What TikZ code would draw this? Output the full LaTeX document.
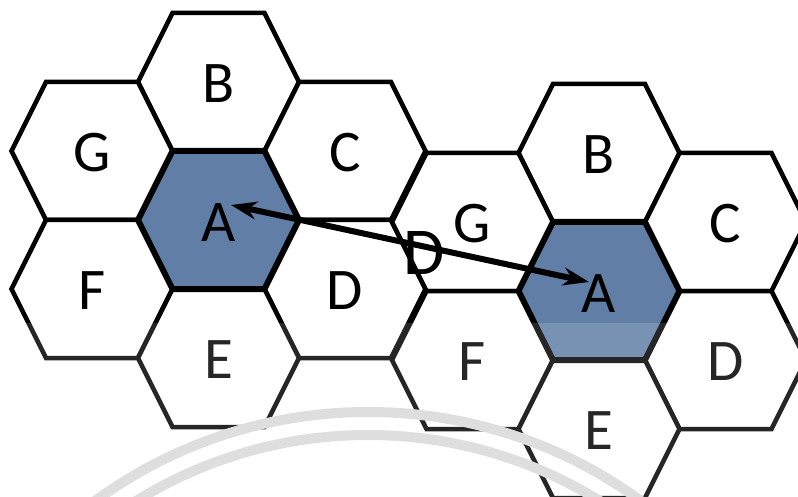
\documentclass[tikz,border=0pt]{standalone}
\usepackage{fontspec}
\setmainfont{Carlito}
\usepackage{tikz}
\usetikzlibrary{arrows.meta}
\definecolor{cellblue}{RGB}{97,127,166}

\begin{document}
\begin{tikzpicture}[
x=1pt, y=-1pt,
cell/.style={draw=black, line width=4.5pt, fill=white},
reuse/.style={draw=black, line width=6pt, fill=cellblue},
reusedist/.style={{Stealth[length=26pt,width=18pt]}-{Stealth[length=26pt,width=18pt]}, line width=6pt},
every node/.style={font=\fontsize{59}{60}\selectfont, inner sep=0pt}
]
\useasboundingbox (0,0) rectangle (798,497);
\clip (0,0) rectangle (798,497);

% first cluster, then the second one
\foreach \cx/\cy/\name/\txt in {
    218.5/82/lB/B, 92/151/lG/G, 345/151/lC/C, 92/289/lF/F, 345/289/lD/D, 218.5/358/lE/E,
    599/153/rB/B, 472.5/222/rG/G, 725.5/222/rC/C, 472.5/360/rF/F, 725.5/360/rD/D, 599/429/rE/E}
{
    \draw[cell, shift={(\cx,\cy)}] (-80.5,0) -- (-46,-69) -- (46,-69) -- (80.5,0) -- (46,69) -- (-46,69) -- cycle;
    \node (\name) at (\cx,\cy+2) {\txt};
}

% co-channel cells
\foreach \cx/\cy/\name in {218.5/220/lA, 599/291/rA}
{
    \draw[reuse, shift={(\cx,\cy)}] (-80.5,0) -- (-46,-69) -- (46,-69) -- (80.5,0) -- (46,69) -- (-46,69) -- cycle;
    \node (\name) at (\cx,\cy+2.5) {A};
}

\coordinate (tipL) at (231,205);
\coordinate (tipR) at (589,282);
\draw[reusedist] (tipL) -- (tipR);
\node[font=\fontsize{67}{68}\selectfont] (dist) at (424,253.5) {D};

% watermark
\fill[white, opacity=0.15] (0,323) rectangle (798,497);
\draw[black!13, line width=10pt] (368,875) circle[radius=463pt];
\draw[black!13, line width=10pt] (368,875) circle[radius=440pt];
\end{tikzpicture}
\end{document}
